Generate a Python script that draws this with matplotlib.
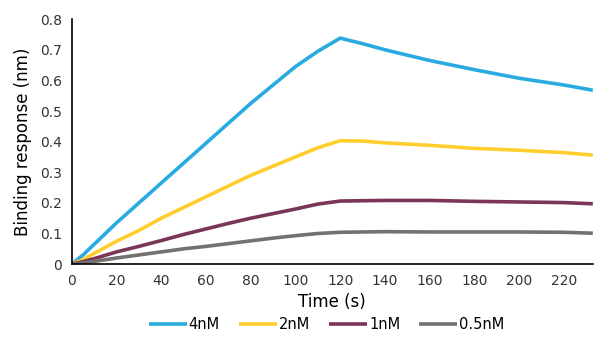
import matplotlib.pyplot as plt
from matplotlib.ticker import FormatStrFormatter

# values
time_s = [0, 5, 10, 20, 30, 40, 50, 60, 70, 80, 90, 100, 110, 120,
          130, 140, 160, 180, 200, 220, 233]
resp_4nM = [0, 0.03, 0.065, 0.135, 0.2, 0.265, 0.33, 0.395, 0.46, 0.525,
            0.585, 0.645, 0.695, 0.738, 0.72, 0.70, 0.665, 0.635, 0.607, 0.585, 0.568]
resp_2nM = [0, 0.015, 0.035, 0.075, 0.11, 0.15, 0.185, 0.22, 0.255, 0.29,
            0.32, 0.35, 0.38, 0.403, 0.402, 0.396, 0.388, 0.378, 0.372, 0.364, 0.356]
resp_1nM = [0, 0.008, 0.018, 0.04, 0.058, 0.077, 0.097, 0.115, 0.133, 0.15,
            0.165, 0.18, 0.196, 0.206, 0.207, 0.208, 0.208, 0.205, 0.203, 0.201, 0.197]
resp_05nM = [0, 0.004, 0.009, 0.02, 0.03, 0.04, 0.05, 0.058, 0.067, 0.076,
             0.085, 0.093, 0.1, 0.104, 0.105, 0.106, 0.105, 0.105, 0.105, 0.104, 0.101]

labels = ["4nM", "2nM", "1nM", "0.5nM"]
colors = ["#29ABE2", "#FFCE2E", "#7B3558", "#767171"]
series = [resp_4nM, resp_2nM, resp_1nM, resp_05nM]

plt.rcParams['font.family'] = ['DejaVu Sans']

fig = plt.figure(figsize=(5.94, 3.48), dpi=100)
ax = fig.add_axes([0.121, 0.241, 0.877, 0.704])

for vals, lab, col in zip(series, labels, colors):
    ax.plot(time_s, vals, color=col, lw=2.6, label=lab, solid_capstyle='butt')

ax.set_xlim(0, 233)
ax.set_ylim(0, 0.8)
ax.set_xticks(range(0, 221, 20))
ax.set_yticks([i / 10 for i in range(9)])
ax.yaxis.set_major_formatter(FormatStrFormatter('%g'))
ax.tick_params(length=0, labelsize=10, colors='#333333', pad=7)

for s in ['top', 'right']:
    ax.spines[s].set_visible(False)
for s in ['left', 'bottom']:
    ax.spines[s].set_color('black')
    ax.spines[s].set_linewidth(1.2)

ax.set_xlabel("Time (s)", fontsize=12, labelpad=4)
ax.set_ylabel("Binding response (nm)", fontsize=12, labelpad=6)

fig.legend(loc='center', bbox_to_anchor=(0.55, 0.068), ncol=4, frameon=False,
           fontsize=10.5, handlelength=2.6, handletextpad=0.15, columnspacing=1.3)

fig.savefig("out.png", dpi=100)
